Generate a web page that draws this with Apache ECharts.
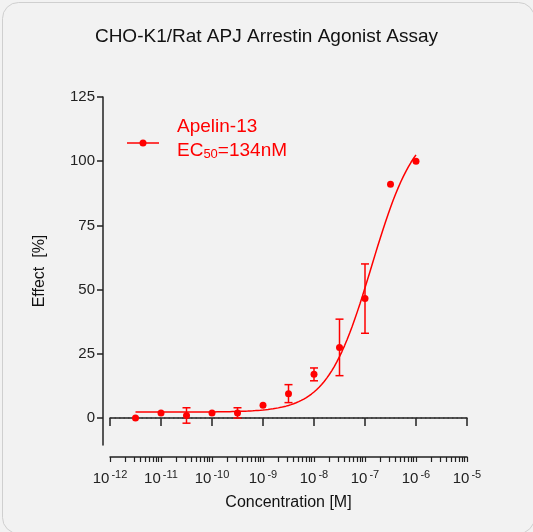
<!DOCTYPE html><html><head><meta charset="utf-8">
<script src="https://cdn.jsdelivr.net/npm/echarts@6/dist/echarts.min.js"></script>
<style>html,body{margin:0;padding:0;background:#fff}#c{width:533px;height:532px}</style></head><body><div id="c"></div>
<script>
const logConc=[-11.5,-11,-10.5,-10,-9.5,-9,-8.5,-8,-7.5,-7,-6.5,-6];
const effect=[0,2,1,2,2,5,9.5,17,27.5,46.5,91,100];
const errs=[0,0,3,0,2,0,3.5,2.5,11,13.5,0,0];
const xTicks=[-12,-11,-10,-9,-8,-7,-6,-5];
const yTicks=[0,25,50,75,100,125];
const fitBottom=2.3, fitTop=116, logEC50=-6.87, hill=1;
const red='#ff0000';
const fit=[];for(let i=0;i<=110;i++){const x=-11.5+i*0.05;fit.push([x,fitBottom+(fitTop-fitBottom)/(1+Math.pow(10,(logEC50-x)*hill))]);}
const minor=[];for(let n=-12;n<-5;n++)for(let k=1;k<10;k++)minor.push(n+Math.log10(k));minor.push(-5);
const ch=echarts.init(document.getElementById('c'));
const xBase={type:'value',min:-12,max:-5,position:'bottom',offset:12,splitLine:{show:false},axisLine:{show:true,lineStyle:{color:'#222',width:1.5}}};
ch.setOption({
 backgroundColor:'#f2f2f2',
 title:{text:'CHO-K1/Rat APJ Arrestin Agonist Assay',left:'center',top:22,textStyle:{fontFamily:'Liberation Sans',fontSize:19,fontWeight:'normal',color:'#111'}},
 grid:{left:110,right:66,top:97,bottom:87},
 xAxis:[Object.assign({},xBase,{name:'Concentration [M]',nameLocation:'middle',nameGap:38,nameTextStyle:{fontFamily:'Liberation Sans',fontSize:16,color:'#111'},
   axisTick:{customValues:xTicks,length:8,lineStyle:{color:'#222',width:1.5}},
   axisLabel:{customValues:xTicks,margin:12,formatter:v=>'{b|10}{s|'+String(v)+'}',rich:{b:{fontSize:15,fontFamily:'Liberation Sans',color:'#222'},s:{fontSize:11,fontFamily:'Liberation Sans',color:'#222',verticalAlign:'top',padding:[0,0,8,2]}}}}),
  Object.assign({},xBase,{axisTick:{customValues:minor,length:5,lineStyle:{color:'#222',width:1.2}},axisLabel:{show:false}})],
 yAxis:{type:'value',min:-10.5,max:125,offset:7,splitLine:{show:false},name:'Effect  [%]',nameLocation:'middle',nameGap:55,nameTextStyle:{fontFamily:'Liberation Sans',fontSize:16,color:'#111'},
   axisLine:{show:true,lineStyle:{color:'#222',width:1.5}},axisTick:{show:true,customValues:yTicks,length:6,lineStyle:{color:'#222',width:1.5}},
   axisLabel:{customValues:yTicks,fontFamily:'Liberation Sans',fontSize:15,color:'#222'}},
 series:[
  {type:'line',data:[[-12,0],[-5,0]],symbol:'none',lineStyle:{color:'#333',width:1,type:[1.5,3]},silent:true,z:1},
  {type:'line',data:fit,symbol:'none',smooth:false,lineStyle:{color:red,width:1.5},z:2},
  {type:'custom',z:3,data:logConc.map((x,i)=>[x,effect[i],errs[i]]),renderItem:(p,api)=>{
    const e=api.value(2);if(!e)return null;const x=api.value(0),y=api.value(1);
    const a=api.coord([x,y+e]),b=api.coord([x,y-e]);const w=4;
    const st={stroke:red,lineWidth:1.5};
    return {type:'group',children:[{type:'line',shape:{x1:a[0],y1:a[1],x2:b[0],y2:b[1]},style:st},
     {type:'line',shape:{x1:a[0]-w,y1:a[1],x2:a[0]+w,y2:a[1]},style:st},{type:'line',shape:{x1:b[0]-w,y1:b[1],x2:b[0]+w,y2:b[1]},style:st}]};}},
  {type:'scatter',data:logConc.map((x,i)=>[x,effect[i]]),symbol:'circle',symbolSize:7,itemStyle:{color:red,opacity:1},z:4}
 ],
 graphic:[
  {type:'rect',left:0,top:0,shape:{width:532,height:531,r:16},style:{fill:'none',stroke:'#cfcfcf',lineWidth:1}},
  {type:'line',shape:{x1:127,y1:143,x2:159,y2:143},style:{stroke:red,lineWidth:1.5}},
  {type:'circle',shape:{cx:143,cy:143,r:3.5},style:{fill:red}},
  {type:'text',left:177,top:117,style:{text:'Apelin-13',fontFamily:'Liberation Sans',fontSize:19,fill:red}},
  {type:'text',left:177,top:141,style:{text:'{a|EC}{s|50}{a|=134nM}',rich:{a:{fontFamily:'Liberation Sans',fontSize:19,fill:red},s:{fontFamily:'Liberation Sans',fontSize:13,fill:red,verticalAlign:'bottom',padding:[7,0,0,0]}}}}
 ]
});
</script></body></html>
